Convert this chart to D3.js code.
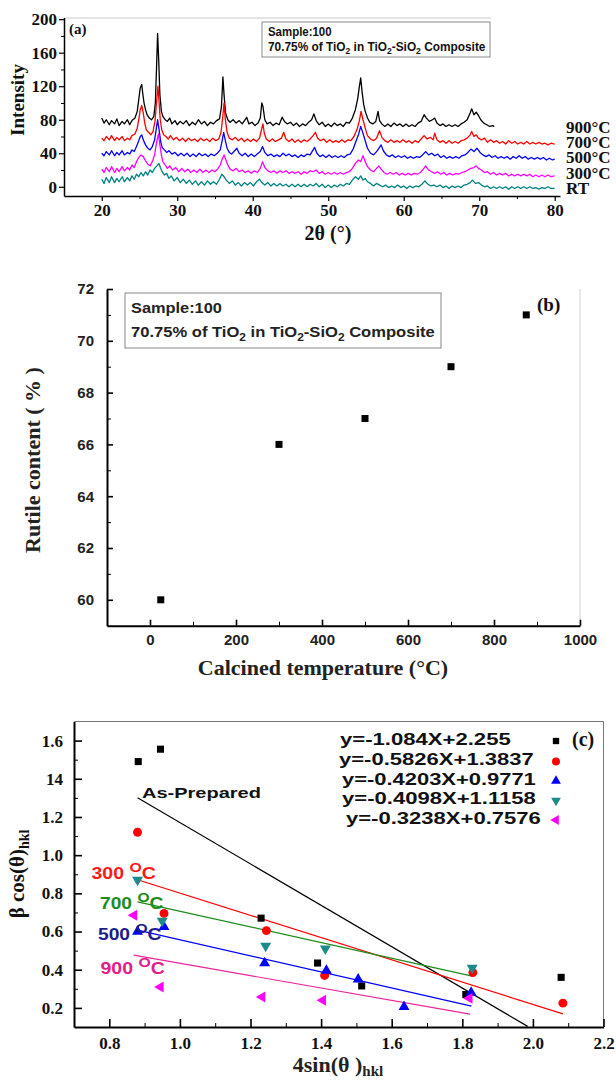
<!DOCTYPE html>
<html><head><meta charset="utf-8">
<script src="https://cdn.jsdelivr.net/npm/d3@7"></script>
<style>body{margin:0;background:#fff}svg{display:block}</style>
</head><body>
<svg id="c" width="616" height="1081"></svg>
<script>
// ---------------- DATA ----------------
// Panel (a): XRD patterns, [2theta, intensity]
const xrdLabels = ["900°C", "700°C", "500°C", "300°C", "RT"];
const xrdColors = ["#000000", "#ff0000", "#0000ff", "#ff00ff", "#008080"];
const xrd900 = [[20,82],[20.3,76],[20.6,80],[21,74],[21.3,79],[21.7,75],[22,81],[22.3,73],[22.7,78],[23,75],[23.4,80],[23.7,74],[24,79],[24.4,82],[24.7,90],[24.9,104],[25.1,118],[25.3,122],[25.45,110],[25.6,100],[25.8,92],[26,86],[26.3,82],[26.6,80],[26.9,84],[27.1,100],[27.25,140],[27.4,183],[27.55,150],[27.7,110],[27.9,90],[28.1,84],[28.4,80],[28.7,78],[29,82],[29.3,75],[29.7,79],[30,74],[30.4,78],[30.8,75],[31.2,79],[31.6,73],[32,77],[32.4,74],[32.8,80],[33.2,75],[33.6,78],[34,73],[34.4,77],[34.8,75],[35.2,79],[35.6,81],[35.85,95],[36.05,131],[36.2,110],[36.4,88],[36.7,80],[37,77],[37.4,80],[37.8,76],[38.2,79],[38.6,75],[39,80],[39.2,83],[39.5,75],[39.9,77],[40.3,73],[40.7,76],[41,82],[41.2,100],[41.35,96],[41.6,80],[41.9,75],[42.3,77],[42.7,73],[43.1,76],[43.5,74],[43.9,83],[44.2,78],[44.6,75],[45,77],[45.4,73],[45.8,76],[46.2,72],[46.6,75],[47,73],[47.4,77],[47.8,80],[48.1,87],[48.4,79],[48.8,74],[49.2,77],[49.6,72],[50,75],[50.4,72],[50.8,76],[51.2,73],[51.6,75],[52,72],[52.4,77],[52.8,76],[53.2,82],[53.6,92],[53.9,105],[54.1,118],[54.3,130],[54.5,112],[54.7,98],[54.9,90],[55.2,82],[55.5,77],[55.9,75],[56.3,78],[56.6,90],[56.8,79],[57.1,75],[57.5,72],[57.9,75],[58.3,72],[58.7,76],[59.1,73],[59.5,75],[59.9,72],[60.3,75],[60.7,72],[61.1,74],[61.5,72],[61.9,76],[62.3,78],[62.7,86],[63,82],[63.4,78],[63.8,80],[64.1,82],[64.4,76],[64.8,73],[65.2,75],[65.6,72],[66,74],[66.4,72],[66.8,74],[67.2,72],[67.6,75],[68,77],[68.4,80],[68.8,88],[69,93],[69.3,86],[69.6,89],[69.9,85],[70.2,80],[70.6,76],[71,74],[71.4,72],[71.8,73],[72,72]];
const xrd700 = [[20,58],[20.3,55],[20.6,60],[21,56],[21.3,61],[21.7,55],[22,59],[22.3,56],[22.7,60],[23,55],[23.4,58],[23.7,56],[24,61],[24.4,63],[24.7,70],[24.9,80],[25.1,92],[25.3,97],[25.5,88],[25.7,76],[25.9,68],[26.2,65],[26.5,62],[26.8,66],[27.05,78],[27.25,100],[27.45,120],[27.6,100],[27.75,80],[27.95,68],[28.2,62],[28.5,60],[28.8,57],[29.1,61],[29.5,56],[29.9,59],[30.3,55],[30.7,58],[31.1,54],[31.5,58],[31.9,55],[32.3,57],[32.7,54],[33.1,58],[33.5,55],[33.9,57],[34.3,54],[34.7,58],[35.1,55],[35.5,57],[35.8,65],[36.05,85],[36.2,100],[36.35,82],[36.6,65],[36.9,58],[37.3,56],[37.7,59],[38.1,55],[38.5,58],[38.9,54],[39.3,57],[39.7,54],[40.1,57],[40.5,54],[40.9,58],[41.15,68],[41.35,75],[41.55,63],[41.8,57],[42.2,54],[42.6,57],[43,54],[43.4,56],[43.8,58],[44.1,65],[44.4,57],[44.8,54],[45.2,57],[45.6,53],[46,56],[46.4,53],[46.8,56],[47.2,54],[47.6,57],[48,61],[48.3,65],[48.6,58],[49,55],[49.4,57],[49.8,53],[50.2,56],[50.6,53],[51,55],[51.4,53],[51.8,56],[52.2,53],[52.6,56],[53,55],[53.4,60],[53.8,68],[54.1,78],[54.35,90],[54.6,80],[54.9,70],[55.2,61],[55.6,57],[56,55],[56.4,58],[56.8,67],[57.1,59],[57.5,55],[57.9,53],[58.3,56],[58.7,53],[59.1,55],[59.5,53],[59.9,56],[60.3,53],[60.7,55],[61.1,52],[61.5,55],[61.9,53],[62.3,57],[62.7,61],[63.1,57],[63.5,59],[63.9,56],[64.1,64],[64.4,56],[64.8,53],[65.2,55],[65.6,52],[66,55],[66.4,52],[66.8,54],[67.2,52],[67.6,55],[68,56],[68.4,58],[68.8,62],[69,66],[69.3,60],[69.6,62],[69.9,58],[70.3,56],[70.7,58],[71.1,53],[71.5,56],[71.9,53],[72.3,55],[72.7,52],[73.1,54],[73.5,51],[73.9,55],[74.3,52],[74.7,54],[75.1,51],[75.5,53],[75.9,51],[76.3,54],[76.7,51],[77.1,53],[77.5,51],[77.9,53],[78.3,51],[78.7,52],[79.1,50],[79.5,52],[80,51]];
const xrd500 = [[20,40],[20.3,37],[20.6,42],[21,38],[21.3,43],[21.7,37],[22,41],[22.3,38],[22.7,43],[23,38],[23.4,41],[23.7,39],[24,44],[24.3,42],[24.6,48],[24.9,55],[25.1,60],[25.3,62],[25.5,56],[25.8,50],[26.1,46],[26.4,44],[26.7,48],[27,56],[27.2,68],[27.4,80],[27.6,68],[27.8,54],[28,47],[28.3,44],[28.6,41],[28.9,43],[29.3,39],[29.7,41],[30.1,37],[30.5,40],[30.9,37],[31.3,40],[31.7,36],[32.1,39],[32.5,36],[32.9,40],[33.3,37],[33.7,39],[34.1,36],[34.5,39],[34.9,37],[35.3,40],[35.7,44],[35.95,55],[36.15,65],[36.35,56],[36.6,46],[36.9,41],[37.2,39],[37.6,43],[37.9,46],[38.2,40],[38.6,37],[39,40],[39.4,36],[39.8,39],[40.2,36],[40.6,39],[41,42],[41.3,48],[41.6,41],[42,37],[42.4,39],[42.8,36],[43.2,38],[43.6,36],[44,40],[44.4,37],[44.8,39],[45.2,36],[45.6,38],[46,35],[46.4,38],[46.8,36],[47.2,39],[47.6,38],[48,44],[48.2,47],[48.5,40],[48.9,36],[49.3,38],[49.7,35],[50.1,38],[50.5,35],[50.9,37],[51.3,35],[51.7,37],[52.1,35],[52.5,38],[52.9,39],[53.3,45],[53.7,55],[54,62],[54.3,72],[54.6,64],[54.9,55],[55.2,46],[55.6,40],[56,38],[56.4,42],[56.8,47],[57,50],[57.3,43],[57.7,38],[58.1,36],[58.5,38],[58.9,35],[59.3,37],[59.7,35],[60.1,37],[60.5,34],[60.9,36],[61.3,34],[61.7,36],[62.1,35],[62.5,38],[62.9,42],[63.3,38],[63.7,40],[64.1,37],[64.5,39],[64.9,35],[65.3,37],[65.7,34],[66.1,36],[66.5,34],[66.9,36],[67.3,34],[67.7,37],[68.1,38],[68.5,41],[68.9,45],[69.3,42],[69.7,46],[70.1,41],[70.5,38],[70.9,36],[71.3,38],[71.7,35],[72.1,37],[72.5,34],[72.9,36],[73.3,34],[73.7,36],[74.1,33],[74.5,36],[74.9,34],[75.3,37],[75.7,34],[76.1,36],[76.5,33],[76.9,35],[77.3,33],[77.7,35],[78.1,33],[78.5,35],[78.9,32],[79.3,34],[79.7,32],[80,33]];
const xrd300 = [[20,21],[20.3,17],[20.6,23],[21,18],[21.3,24],[21.7,17],[22,22],[22.3,18],[22.7,24],[23,19],[23.4,23],[23.7,20],[24,26],[24.3,23],[24.6,30],[24.9,35],[25.2,38],[25.5,36],[25.8,31],[26.1,27],[26.4,25],[26.7,30],[27,38],[27.25,52],[27.5,63],[27.7,50],[27.9,38],[28.1,30],[28.4,26],[28.7,22],[29,25],[29.4,20],[29.8,23],[30.2,18],[30.6,22],[31,18],[31.4,21],[31.8,17],[32.2,20],[32.6,17],[33,21],[33.4,17],[33.8,20],[34.2,17],[34.6,20],[35,18],[35.4,22],[35.7,26],[35.95,33],[36.2,38],[36.45,32],[36.7,26],[37,21],[37.4,19],[37.8,22],[38.2,18],[38.6,20],[39,17],[39.4,19],[39.8,16],[40.2,19],[40.6,17],[41,22],[41.3,30],[41.6,23],[42,19],[42.4,17],[42.8,19],[43.2,16],[43.6,19],[44,17],[44.4,19],[44.8,16],[45.2,18],[45.6,16],[46,18],[46.4,15],[46.8,18],[47.2,16],[47.6,19],[48,18],[48.4,20],[48.8,16],[49.2,18],[49.6,15],[50,17],[50.4,15],[50.8,17],[51.2,15],[51.6,17],[52,15],[52.4,17],[52.8,18],[53.2,22],[53.6,28],[54,32],[54.3,30],[54.6,37],[54.9,30],[55.2,24],[55.6,20],[56,18],[56.4,22],[56.7,25],[57,21],[57.4,17],[57.8,15],[58.2,17],[58.6,15],[59,17],[59.4,14],[59.8,16],[60.2,14],[60.6,16],[61,14],[61.4,16],[61.8,15],[62.2,17],[62.6,21],[62.9,25],[63.3,20],[63.7,18],[64.1,16],[64.5,18],[64.9,15],[65.3,17],[65.7,14],[66.1,16],[66.5,14],[66.9,16],[67.3,15],[67.7,17],[68.1,18],[68.5,20],[68.9,22],[69.3,23],[69.6,25],[69.9,22],[70.3,20],[70.7,17],[71.1,18],[71.5,15],[71.9,17],[72.3,14],[72.7,16],[73.1,14],[73.5,16],[73.9,13],[74.3,15],[74.7,13],[75.1,15],[75.5,13],[75.9,15],[76.3,13],[76.7,15],[77.1,12],[77.5,14],[77.9,12],[78.3,14],[78.7,12],[79.1,14],[79.5,12],[80,13]];
const xrdRT = [[20,9],[20.3,4],[20.6,11],[21,5],[21.3,12],[21.7,5],[22,10],[22.3,6],[22.7,12],[23,6],[23.4,11],[23.7,7],[24,13],[24.3,9],[24.6,15],[24.9,12],[25.2,17],[25.5,13],[25.8,18],[26.1,14],[26.4,20],[26.7,17],[27,22],[27.3,25],[27.55,28],[27.8,22],[28,18],[28.3,14],[28.6,16],[28.9,10],[29.2,13],[29.6,7],[30,11],[30.4,5],[30.8,9],[31.2,4],[31.6,8],[32,3],[32.4,7],[32.8,2],[33.2,6],[33.6,2],[34,7],[34.4,3],[34.8,6],[35.2,3],[35.6,9],[35.9,15],[36.2,12],[36.5,8],[36.9,4],[37.3,7],[37.7,2],[38.1,5],[38.5,1],[38.9,5],[39.3,2],[39.7,5],[40.1,1],[40.5,6],[40.9,9],[41.2,5],[41.6,2],[42,5],[42.4,1],[42.8,4],[43.2,1],[43.6,4],[44,1],[44.4,3],[44.8,0],[45.2,3],[45.6,0],[46,3],[46.4,0],[46.8,3],[47.2,0],[47.6,3],[48,1],[48.4,4],[48.8,0],[49.2,3],[49.6,-1],[50,2],[50.4,-1],[50.8,2],[51.2,0],[51.6,3],[52,1],[52.4,4],[52.8,3],[53.2,8],[53.6,12],[54,9],[54.3,13],[54.6,8],[54.9,10],[55.2,6],[55.6,4],[56,1],[56.4,4],[56.8,2],[57.2,0],[57.6,2],[58,-1],[58.4,1],[58.8,-1],[59.2,2],[59.6,-1],[60,1],[60.4,-2],[60.8,1],[61.2,-1],[61.6,1],[62,0],[62.4,3],[62.8,7],[63.2,3],[63.6,1],[64,2],[64.4,0],[64.8,2],[65.2,-1],[65.6,1],[66,-2],[66.4,1],[66.8,-1],[67.2,1],[67.6,-1],[68,2],[68.4,3],[68.8,5],[69.1,8],[69.5,4],[69.9,5],[70.3,2],[70.7,0],[71.1,1],[71.5,-2],[71.9,0],[72.3,-2],[72.7,0],[73.1,-2],[73.5,0],[73.9,-3],[74.3,0],[74.7,-2],[75.1,0],[75.5,-2],[75.9,0],[76.3,-2],[76.7,0],[77.1,-2],[77.5,-1],[77.9,-3],[78.3,-1],[78.7,-2],[79.1,0],[79.5,-2],[80,-2]];
const xrdXTicks = [20, 30, 40, 50, 60, 70, 80];
const xrdYTicks = [0, 40, 80, 120, 160, 200];

// Panel (b): rutile content
const calcTemp = [25, 300, 500, 700, 875];
const rutileContent = [60, 66, 67, 69, 71];
const rutileXTicks = [0, 200, 400, 600, 800, 1000];
const rutileYTicks = [60, 62, 64, 66, 68, 70, 72];

// Panel (c): Williamson-Hall plots
const whSeriesNames = ["As-Prepared", "300 °C", "500 °C", "700 °C", "900 °C"];
const whAsPrepared = [[0.882,1.49],[0.945,1.555],[1.23,0.67],[1.39,0.435],[1.515,0.315],[1.81,0.27],[2.08,0.36]];
const wh300 = [[0.88,1.12],[0.955,0.695],[1.245,0.605],[1.41,0.37],[1.83,0.385],[2.085,0.225]];
const wh500 = [[0.88,0.60],[0.955,0.625],[1.24,0.435],[1.415,0.395],[1.505,0.35],[1.635,0.205],[1.825,0.28]];
const wh700 = [[0.88,0.87],[0.95,0.655],[1.243,0.525],[1.412,0.51],[1.828,0.41]];
const wh900 = [[0.87,0.685],[0.945,0.31],[1.233,0.257],[1.405,0.24],[1.82,0.25]];
const fitSlopes = [-1.084, -0.5826, -0.4203, -0.4098, -0.3238];
const fitIntercepts = [2.255, 1.3837, 0.9771, 1.1158, 0.7576];
const fitXRanges = [[0.88, 1.985], [0.88, 2.085], [0.88, 1.826], [0.88, 1.828], [0.869, 1.822]];
const fitEquations = ["y=-1.084X+2.255", "y=-0.5826X+1.3837", "y=-0.4203X+0.9771", "y=-0.4098X+1.1158", "y=-0.3238X+0.7576"];
const whXTicks = [0.8, 1.0, 1.2, 1.4, 1.6, 1.8, 2.0, 2.2];
const whYTicks = [0.2, 0.4, 0.6, 0.8, 1.0, 1.2, 1.4, 1.6];
const whYTickLabels = ["0.2", "0.4", "0.6", "0.8", "1.0", "1.2", "14", "1.6"];

// ---------------- DRAWING ----------------
const svg = d3.select("#c");
const SERIF = "'Liberation Serif','Times New Roman',serif";
const SANS = "'Liberation Sans',Arial,sans-serif";

function fitW(t, w) {
  const bb = t.node().getBBox();
  const k = w / bb.width;
  const x0 = bb.x;
  t.attr("transform", `translate(${x0},0) scale(${k},1) translate(${-x0},0)`);
}
function styleAxis(g, font, size, dw, fill) {
  g.select(".domain").attr("stroke", "#000").attr("stroke-width", dw);
  g.selectAll(".tick line").attr("stroke", "#000").attr("stroke-width", dw * 0.8);
  g.selectAll(".tick text").attr("font-family", font).attr("font-weight", "bold")
    .attr("font-size", size).attr("fill", fill || "#111");
}
function minor(g, axis) {
  g.call(axis.tickFormat(() => "")).select(".domain").remove();
  g.selectAll(".tick line").attr("stroke", "#000");
}
function subText(sel, parts, baseSize) {
  parts.forEach(p => {
    if (p.sub) sel.append("tspan").attr("dy", baseSize * 0.28).attr("font-size", baseSize * 0.72).text(p.t);
    else sel.append("tspan").attr("dy", p.after ? -baseSize * 0.28 : 0).text(p.t);
  });
}

// ===== Panel (a) =====
const ax = d3.scaleLinear().domain([15, 80.7]).range([64, 560]);
const ay = d3.scaleLinear().domain([-11, 202]).range([196, 17.5]);
svg.append("line").attr("x1", 64).attr("x2", 491).attr("y1", 18).attr("y2", 18)
  .attr("stroke", "#c8c8c8").attr("stroke-width", 1);

const xrdSeries = [xrd900, xrd700, xrd500, xrd300, xrdRT];
const aline = d3.line().x(d => ax(d[0])).y(d => ay(d[1]));
xrdSeries.forEach((s, i) => {
  svg.append("path").datum(s).attr("d", aline).attr("fill", "none")
    .attr("stroke", xrdColors[i]).attr("stroke-width", 1.3).attr("stroke-linejoin", "round");
});

const gaY = svg.append("g").attr("transform", "translate(64,0)")
  .call(d3.axisLeft(ay).tickValues(xrdYTicks).tickSize(5).tickSizeOuter(0).tickPadding(2));
styleAxis(gaY, SERIF, 17, 1.5);
minor(svg.append("g").attr("transform", "translate(64,0)"), d3.axisLeft(ay).tickValues([20, 60, 100, 140, 180]).tickSize(3));
const gaX = svg.append("g").attr("transform", "translate(0,196)")
  .call(d3.axisBottom(ax).tickValues(xrdXTicks).tickSize(5).tickSizeOuter(0).tickPadding(3));
styleAxis(gaX, SERIF, 17, 1.5);
minor(svg.append("g").attr("transform", "translate(0,196)"), d3.axisBottom(ax).tickValues([25, 35, 45, 55, 65, 75]).tickSize(3));

svg.append("text").attr("transform", "translate(24,100) rotate(-90)").attr("text-anchor", "middle")
  .attr("font-family", SERIF).attr("font-weight", "bold").attr("font-size", 19).attr("fill", "#111").text("Intensity");
svg.append("text").attr("x", 328).attr("y", 240).attr("text-anchor", "middle")
  .attr("font-family", SERIF).attr("font-weight", "bold").attr("font-size", 20).attr("fill", "#111").text("2θ (°)");
svg.append("text").attr("x", 69).attr("y", 34).attr("font-family", SERIF).attr("font-weight", "bold")
  .attr("font-size", 15).attr("fill", "#111").text("(a)");
const aLabY = [127, 142.5, 157.5, 173, 188.5];
xrdLabels.forEach((l, i) => {
  svg.append("text").attr("x", 566).attr("y", aLabY[i] + 5.5).attr("font-family", SERIF).attr("font-weight", "bold")
    .attr("font-size", 17).attr("fill", "#111").text(l);
});
svg.append("rect").attr("x", 262).attr("y", 22).attr("width", 228).attr("height", 35)
  .attr("fill", "#fff").attr("stroke", "#888").attr("stroke-width", 1);
const aT1 = svg.append("text").attr("x", 268).attr("y", 36.5).attr("font-family", SANS).attr("font-weight", "bold")
  .attr("font-size", 12).attr("fill", "#111").text("Sample:100");
fitW(aT1, 64);
const aT2 = svg.append("text").attr("x", 268).attr("y", 51).attr("font-family", SANS).attr("font-weight", "bold")
  .attr("font-size", 12).attr("fill", "#111");
subText(aT2, [{t: "70.75% of TiO"}, {t: "2", sub: 1}, {t: " in TiO", after: 1}, {t: "2", sub: 1}, {t: "-SiO", after: 1}, {t: "2", sub: 1}, {t: " Composite", after: 1}], 12);
fitW(aT2, 218);

// ===== Panel (b) =====
const bx = d3.scaleLinear().domain([-100, 1000]).range([107, 580]);
const by = d3.scaleLinear().domain([59, 72]).range([625.7, 289]);
svg.append("line").attr("x1", 580).attr("x2", 580).attr("y1", 289).attr("y2", 625.7)
  .attr("stroke", "#d0d0d0").attr("stroke-width", 1);
const gbY = svg.append("g").attr("transform", "translate(107,0)")
  .call(d3.axisLeft(by).tickValues(rutileYTicks).tickSize(-6).tickSizeOuter(0).tickPadding(13));
styleAxis(gbY, SANS, 15, 2, "#222");
minor(svg.append("g").attr("transform", "translate(107,0)"), d3.axisLeft(by).tickValues([61, 63, 65, 67, 69, 71]).tickSize(-4));
const gbX = svg.append("g").attr("transform", "translate(0,625.7)")
  .call(d3.axisBottom(bx).tickValues(rutileXTicks).tickSize(-6).tickSizeOuter(0).tickPadding(9).tickFormat(d3.format("d")));
styleAxis(gbX, SANS, 15, 2, "#222");
minor(svg.append("g").attr("transform", "translate(0,625.7)"), d3.axisBottom(bx).tickValues([100, 300, 500, 700, 900]).tickSize(-4));
svg.selectAll(".bpt").data(calcTemp).enter().append("rect")
  .attr("x", (d) => bx(d) - 3.5).attr("y", (d, i) => by(rutileContent[i]) - 3.5)
  .attr("width", 7).attr("height", 7).attr("fill", "#000");
svg.append("text").attr("transform", "translate(40,460) rotate(-90)").attr("text-anchor", "middle")
  .attr("font-family", SERIF).attr("font-weight", "bold").attr("font-size", 22).attr("fill", "#222")
  .text("Rutile content ( % )");
svg.append("text").attr("x", 323).attr("y", 675).attr("text-anchor", "middle")
  .attr("font-family", SERIF).attr("font-weight", "bold").attr("font-size", 22).attr("fill", "#222")
  .text("Calcined temperature (°C)");
svg.append("text").attr("x", 537).attr("y", 311).attr("font-family", SERIF).attr("font-weight", "bold")
  .attr("font-size", 19).attr("fill", "#111").text("(b)");
svg.append("rect").attr("x", 125).attr("y", 293).attr("width", 316).attr("height", 55)
  .attr("fill", "#fff").attr("stroke", "#888").attr("stroke-width", 1);
const bT1 = svg.append("text").attr("x", 131).attr("y", 313.5).attr("font-family", SANS).attr("font-weight", "bold")
  .attr("font-size", 15).attr("fill", "#222").text("Sample:100");
fitW(bT1, 91);
const bT2 = svg.append("text").attr("x", 131).attr("y", 337).attr("font-family", SANS).attr("font-weight", "bold")
  .attr("font-size", 15).attr("fill", "#222");
subText(bT2, [{t: "70.75% of TiO"}, {t: "2", sub: 1}, {t: " in TiO", after: 1}, {t: "2", sub: 1}, {t: "-SiO", after: 1}, {t: "2", sub: 1}, {t: " Composite", after: 1}], 15);
fitW(bT2, 304);

// ===== Panel (c) =====
const cx = d3.scaleLinear().domain([0.7, 2.2]).range([74, 603.5]);
const cy = d3.scaleLinear().domain([0.1, 1.7]).range([1027, 721.5]);
svg.append("line").attr("x1", 74).attr("x2", 603.5).attr("y1", 721.5).attr("y2", 721.5).attr("stroke", "#777").attr("stroke-width", 1);
svg.append("line").attr("x1", 603.5).attr("x2", 603.5).attr("y1", 721.5).attr("y2", 1027).attr("stroke", "#777").attr("stroke-width", 1);

const lineColors = ["#000000", "#ff0000", "#0000ff", "#1a8c1a", "#e8259a"];
const markColors = ["#000000", "#ff0000", "#0000ff", "#1f8a8a", "#ff00ff"];
const whSeries = [whAsPrepared, wh300, wh500, wh700, wh900];
const symbols = [
  {type: d3.symbolSquare, size: 50, rot: 0},
  {type: d3.symbolCircle, size: 62, rot: 0},
  {type: d3.symbolTriangle, size: 52, rot: 0},
  {type: d3.symbolTriangle, size: 52, rot: 180},
  {type: d3.symbolTriangle, size: 52, rot: -90}
];
fitSlopes.forEach((m, i) => {
  const pts = fitXRanges[i].map(x => [x, m * x + fitIntercepts[i]]);
  svg.append("path").datum(pts).attr("d", d3.line().x(d => cx(d[0])).y(d => cy(d[1])))
    .attr("fill", "none").attr("stroke", lineColors[i]).attr("stroke-width", 1.2);
});
whSeries.forEach((s, i) => {
  const sym = d3.symbol().type(symbols[i].type).size(symbols[i].size);
  svg.selectAll(null).data(s).enter().append("path").attr("d", sym)
    .attr("transform", d => `translate(${cx(d[0])},${cy(d[1])}) rotate(${symbols[i].rot})`)
    .attr("fill", markColors[i]);
});

const gcY = svg.append("g").attr("transform", "translate(74,0)")
  .call(d3.axisLeft(cy).tickValues(whYTicks).tickSize(-8).tickSizeOuter(0).tickPadding(11)
    .tickFormat((d, i) => whYTickLabels[i]));
styleAxis(gcY, SERIF, 17, 2);
minor(svg.append("g").attr("transform", "translate(74,0)"), d3.axisLeft(cy).tickValues([0.3, 0.5, 0.7, 0.9, 1.1, 1.3, 1.5]).tickSize(-4));
const gcX2 = svg.append("g").attr("transform", "translate(0,1027)")
  .call(d3.axisBottom(cx).tickValues(whXTicks).tickSize(-8).tickSizeOuter(0).tickPadding(10).tickFormat(d3.format(".1f")));
styleAxis(gcX2, SERIF, 17, 2);
minor(svg.append("g").attr("transform", "translate(0,1027)"), d3.axisBottom(cx).tickValues([0.9, 1.1, 1.3, 1.5, 1.7, 1.9, 2.1]).tickSize(-4));

// legend (equations)
const legY = [739, 759.5, 779, 798.5, 818];
const legX = [340, 339, 342, 342, 346];
const legW = [171, 195, 194, 194, 195];
fitEquations.forEach((e, i) => {
  const t = svg.append("text").attr("x", legX[i]).attr("y", legY[i] + 6).attr("font-family", SANS)
    .attr("font-weight", "bold").attr("font-size", 16).attr("fill", "#111").text(e);
  fitW(t, legW[i]);
  const sym = d3.symbol().type(symbols[i].type).size(symbols[i].size * 0.8);
  svg.append("path").attr("d", sym)
    .attr("transform", `translate(556,${legY[i] + 2}) rotate(${symbols[i].rot})`).attr("fill", markColors[i]);
});
svg.append("text").attr("x", 572).attr("y", 746).attr("font-family", SERIF).attr("font-weight", "bold")
  .attr("font-size", 20).attr("fill", "#111").text("(c)");

// series labels
const apT = svg.append("text").attr("x", 142).attr("y", 798).attr("font-family", SANS).attr("font-weight", "bold")
  .attr("font-size", 15).attr("fill", "#111").text(whSeriesNames[0]);
fitW(apT, 119);
const tLabs = [
  {name: "300", y: 873, x: 91.5, col: "#ff1a1a", w: 65},
  {name: "700", y: 903, x: 100, col: "#1e8c1e", w: 64},
  {name: "500", y: 934, x: 98, col: "#1c1c8c", w: 64},
  {name: "900", y: 968, x: 100.5, col: "#e0208c", w: 65}
];
tLabs.forEach(l => {
  const t = svg.append("text").attr("x", l.x).attr("y", l.y + 6).attr("font-family", SANS).attr("font-weight", "bold")
    .attr("font-size", 16).attr("fill", l.col);
  t.append("tspan").text(l.name + " ");
  t.append("tspan").attr("dy", -7).attr("font-size", 13).text("O");
  t.append("tspan").attr("dy", 7).text("C");
  fitW(t, l.w);
});

svg.append("text").attr("transform", "translate(24,874) rotate(-90)").attr("text-anchor", "middle")
  .attr("font-family", SERIF).attr("font-weight", "bold").attr("font-size", 21).attr("fill", "#111")
  .call(t => {
    t.append("tspan").text("β cos(θ)");
    t.append("tspan").attr("dy", 5).attr("font-size", 14).text("hkl");
  });
svg.append("text").attr("x", 338).attr("y", 1072).attr("text-anchor", "middle")
  .attr("font-family", SERIF).attr("font-weight", "bold").attr("font-size", 22).attr("fill", "#222")
  .call(t => {
    t.append("tspan").text("4sin(θ )");
    t.append("tspan").attr("dy", 4).attr("font-size", 15).text("hkl");
  });
</script>
</body></html>
